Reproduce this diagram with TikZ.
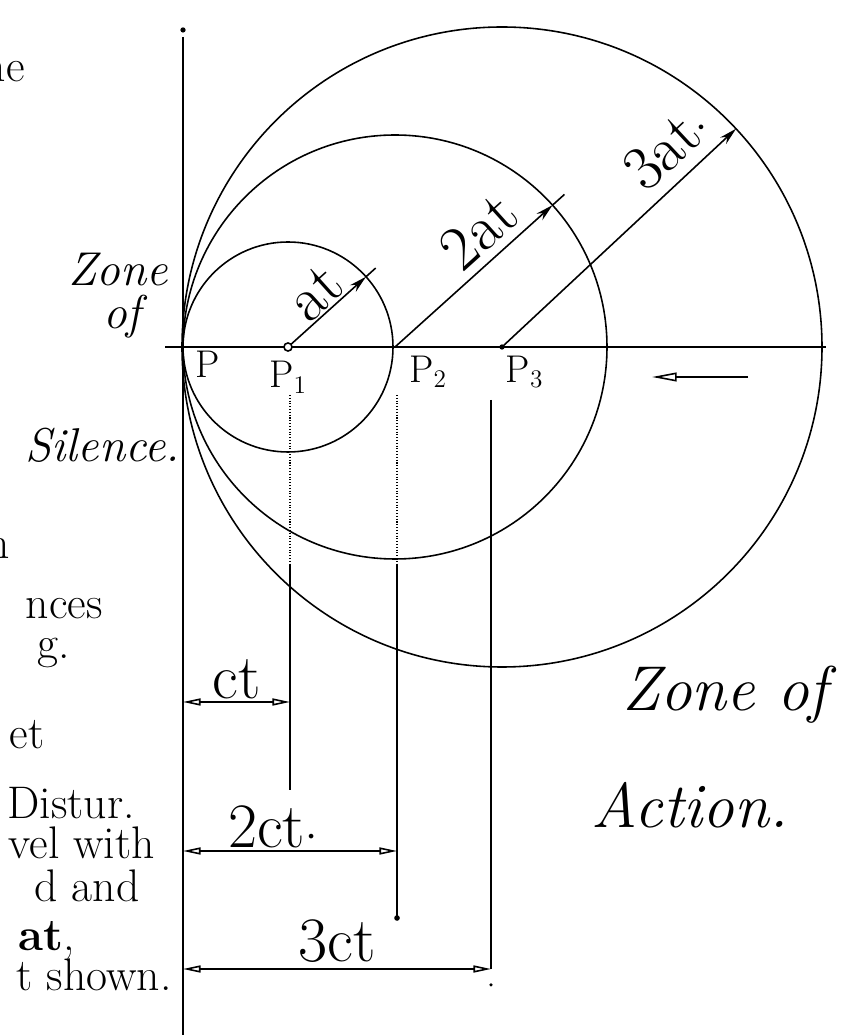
\documentclass[tikz,border=0pt]{standalone}
\usetikzlibrary{arrows.meta, positioning}

\begin{document}
\begin{tikzpicture}[
    x=0.02cm, y=0.02cm,
    pen/.style={line width=0.9pt},
    rline/.style={pen, -{Stealth[length=10pt, width=5pt]}},
    dim/.style={pen, {Triangle[open, length=10pt, width=4pt]}-{Triangle[open, length=10pt, width=4pt]}},
    faint/.style={line width=0.6pt, densely dotted},
    tag/.style={font=\fontsize{22}{22}\selectfont, inner sep=1pt},
    big/.style={font=\fontsize{36}{36}\selectfont, inner sep=1pt},
    zone/.style={font=\fontsize{27}{27}\selectfont\itshape, inner sep=0pt},
    zonebig/.style={font=\fontsize{36}{36}\selectfont\itshape},
    margin/.style={font=\fontsize{26}{26}\selectfont, anchor=mid east, inner sep=0pt}
]
\useasboundingbox (0,0) rectangle (855,1035);

% centres of the wave fronts
\coordinate (p)  at (183,688);
\coordinate (p1) at (288,688);
\coordinate (p2) at (395,688);
\coordinate (p3) at (502,688);

% axes
\coordinate (vtop) at (183,998);
\coordinate (vbot) at (183,0);
\coordinate (hl) at (165,688);
\coordinate (hr) at (826,688);
\path[draw, pen] (vtop) -- (vbot) (hl) -- (hr);
\fill ([yshift=4pt]vtop) circle (1.5pt);

% wave fronts
\draw[pen] (p1) circle (105);
\draw[pen] (p2) circle (212);
\draw[pen] (p3) circle (320);

% radii at, 2at, 3at
\coordinate (r1) at ([shift={(42:105)}]p1);
\coordinate (r2) at ([shift={(42:212)}]p2);
\coordinate (r3) at ([shift={(43:320)}]p3);
\coordinate (t1) at ([shift={(42:118)}]p1);
\coordinate (t2) at ([shift={(42:228)}]p2);
\path[draw, rline] (p1) -- (r1);
\path[draw, rline] (p2) -- (r2);
\path[draw, rline] (p3) -- (r3);
\path[draw, pen] (r1) -- (t1) (r2) -- (t2);
\draw[pen, fill=white] (p1) circle (2.3pt);
\fill (p3) circle (1.5pt);
\path (p1) -- (r1) node[big, sloped, above, pos=0.54] (at1) {at};
\path (p2) -- (r2) node[big, sloped, above=4pt, pos=0.66] (at2) {2at};
\path (p3) -- (r3) node[big, sloped, above=6pt, pos=0.8] (at3) {3at$\cdot$};

% points
\node[tag, below right=1pt and 6pt of p] (lp) {P};
\node[tag, below=7pt of p1] (lp1) {P$_1$};
\node[tag, below right=4pt and 7pt of p2] (lp2) {P$_2$};
\node[tag, below right=4pt and 1pt of p3] (lp3) {P$_3$};

% drops to the dimensions
\coordinate (f1) at (290,640);
\coordinate (d1) at (290,470);
\coordinate (e1) at (290,245);
\coordinate (f2) at (397,640);
\coordinate (d2) at (397,470);
\coordinate (e2) at (397,117);
\coordinate (d3) at (491,635);
\coordinate (ct1) at (290,333);
\coordinate (ct2) at (397,184);
\coordinate (ct3) at (491,66);
\path[draw, faint] (f1) -- (d1) (f2) -- (d2);
\path[draw, pen] (d1) -- (e1) (d2) -- (e2) (d3) -- (ct3);
\fill (e2) circle (1.6pt);
\fill ([yshift=-9pt]ct3) circle (1pt);

\draw[dim] (p |- ct1) -- (ct1) node[big, midway, above] (lct1) {ct};
\draw[dim] (p |- ct2) -- (ct2) node[big, pos=0.42, above] (lct2) {2ct$\cdot$};
\draw[dim] (p |- ct3) -- (ct3) node[big, midway, above=2pt] (lct3) {3ct};

% direction of motion
\coordinate (fa) at (748,658);
\coordinate (fb) at (652,658);
\draw[pen, -{Triangle[open, length=14pt, width=5pt]}] (fa) -- (fb);

% zones
\node[zone, anchor=east] (zs1) at (168,765) {Zone};
\node[zone] (zs2) at (122,718) {of};
\node[zone, anchor=east] (zs3) at (180,590) {Silence.};
\node[zonebig] (za1) at (725,340) {Zone of};
\node[zonebig] (za2) at (690,230) {Action.};

% text of the page, cut at the left edge
\node[margin] at (25,957) {ne};
\node[margin] at (10,480) {n};
\node[margin] at (103,420) {nces};
\node[margin] at (70,380) {g.};
\node[margin] at (45,290) {et};
\node[margin] at (135,220) {Distur.};
\node[margin] at (155,180) {vel with};
\node[margin] at (140,137) {d and};
\node[margin] at (75,88) {\textbf{at},};
\node[margin] at (172,48) {t shown.};
\end{tikzpicture}
\end{document}
